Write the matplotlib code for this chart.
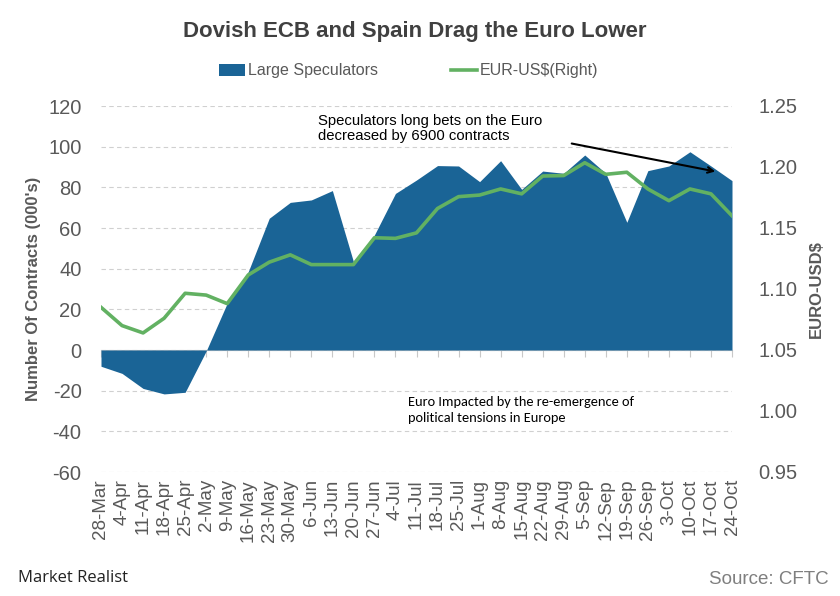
import matplotlib
matplotlib.use("Agg")
import matplotlib.pyplot as plt
import numpy as np

dates = ["28-Mar", "4-Apr", "11-Apr", "18-Apr", "25-Apr", "2-May", "9-May", "16-May",
         "23-May", "30-May", "6-Jun", "13-Jun", "20-Jun", "27-Jun", "4-Jul", "11-Jul",
         "18-Jul", "25-Jul", "1-Aug", "8-Aug", "15-Aug", "22-Aug", "29-Aug", "5-Sep",
         "12-Sep", "19-Sep", "26-Sep", "3-Oct", "10-Oct", "17-Oct", "24-Oct"]
speculators = [-8.0, -11.5, -18.9, -21.6, -20.8, -0.5, 23.0, 38.5, 64.8, 72.6, 73.8,
               78.4, 43.5, 56.6, 77.0, 83.6, 90.7, 90.5, 82.8, 93.1, 79.0, 88.0, 86.9,
               95.9, 86.9, 62.8, 88.2, 90.5, 97.5, 90.5, 83.3]
eurusd = [1.085, 1.070, 1.064, 1.076, 1.0965, 1.095, 1.088, 1.1115, 1.122, 1.128,
          1.120, 1.120, 1.120, 1.142, 1.1415, 1.146, 1.166, 1.1757, 1.177, 1.182,
          1.178, 1.1926, 1.193, 1.2035, 1.194, 1.1957, 1.182, 1.1724, 1.182, 1.178,
          1.160]
left_ticks = [-60, -40, -20, 0, 20, 40, 60, 80, 100, 120]
right_ticks = [0.95, 1.00, 1.05, 1.10, 1.15, 1.20, 1.25]

BLUE = "#1A6496"
GREEN = "#62B162"
GRAY = "#595959"

plt.rcParams['font.family'] = ['Liberation Sans', 'DejaVu Sans']
plt.rcParams['axes.unicode_minus'] = False

fig = plt.figure(figsize=(8.4, 5.96), dpi=100)
ax = fig.add_axes([101/840, 1-472/596, (732-101)/840, (472-106)/596])
x = np.arange(len(dates))

ax.fill_between(x, speculators, 0, color=BLUE, linewidth=0, zorder=2,
                label="Large Speculators")
ax.set_ylim(-60, 120)
ax.set_yticks(left_ticks)
ax.set_xlim(0, len(dates) - 1)
ax.grid(axis='y', color='#D0D0D0', linestyle=(0, (4, 3)), linewidth=0.8, zorder=0)
ax.set_axisbelow(True)
for s in ax.spines.values():
    s.set_visible(False)
ax.set_xticks(x)
ax.set_xticklabels(dates, rotation=90, fontsize=13.5, color=GRAY)
ax.tick_params(axis='x', length=0, pad=5)
ax.tick_params(axis='y', length=0, labelsize=14.5, labelcolor=GRAY, pad=14)
ax.set_ylabel("Number Of Contracts (000's)", fontsize=12, fontweight='bold',
              color=GRAY, labelpad=5)

# tick marks along the zero line
sec = ax.secondary_xaxis(1/3)
sec.set_xticks(x)
sec.set_xticklabels([])
sec.tick_params(axis='x', direction='out', length=5, color='#C8C8C8', width=0.8)
sec.spines['bottom'].set_color('#C8C8C8')
sec.spines['bottom'].set_linewidth(0.8)

ax2 = ax.twinx()
ax2.plot(x, eurusd, color=GREEN, linewidth=2.6, zorder=3, label="EUR-US$(Right)")
ax2.set_ylim(0.95, 1.25)
ax2.set_yticks(right_ticks)
ax2.set_yticklabels([f"{v:.2f}" for v in right_ticks])
ax2.tick_params(axis='y', length=0, labelsize=14.5, labelcolor=GRAY, pad=19)
for s in ax2.spines.values():
    s.set_visible(False)
ax2.set_ylabel("EURO-USD$", fontsize=12, fontweight='bold', color=GRAY, labelpad=8)

# annotations
fig.text(318/840, 1-114/596, "Speculators long bets on the Euro\ndecreased by 6900 contracts",
         fontsize=10.7, color='black', va='top', ha='left', linespacing=1.05)
ax.annotate("", xy=(718/840, 1-172/596), xytext=(569/840, 1-143/596),
            xycoords=fig.transFigure, textcoords=fig.transFigure,
            arrowprops=dict(arrowstyle='->', color='black', lw=1.5))
fig.text(408/840, 1-396/596, "Euro Impacted by the re-emergence of\npolitical tensions in Europe",
         fontsize=10.4, color='black', va='top', ha='left', linespacing=1.4,
         family=['Carlito', 'Liberation Sans', 'DejaVu Sans'])

# title & legend
fig.text(415/840, 1-32/596, "Dovish ECB and Spain Drag the Euro Lower", fontsize=16,
         fontweight='bold', color='#404040', ha='center', va='center')
h1, l1 = ax.get_legend_handles_labels()
h2, l2 = ax2.get_legend_handles_labels()
leg = fig.legend(h1 + h2, l1 + l2, loc='center', bbox_to_anchor=(409/840, 1-71/596),
                 ncol=2, frameon=False, fontsize=11.5, handlelength=1.6,
                 handletextpad=0.2, columnspacing=4.6, labelcolor=GRAY)

fig.text(18/840, 1-578/596, "Market Realist", fontsize=12, color='#222222',
         ha='left', va='center', family=['Open Sans', 'DejaVu Sans'])
fig.text(829/840, 1-579/596, "Source: CFTC", fontsize=13.5, color='#7F7F7F',
         ha='right', va='center')

fig.savefig("out.png", dpi=100)
